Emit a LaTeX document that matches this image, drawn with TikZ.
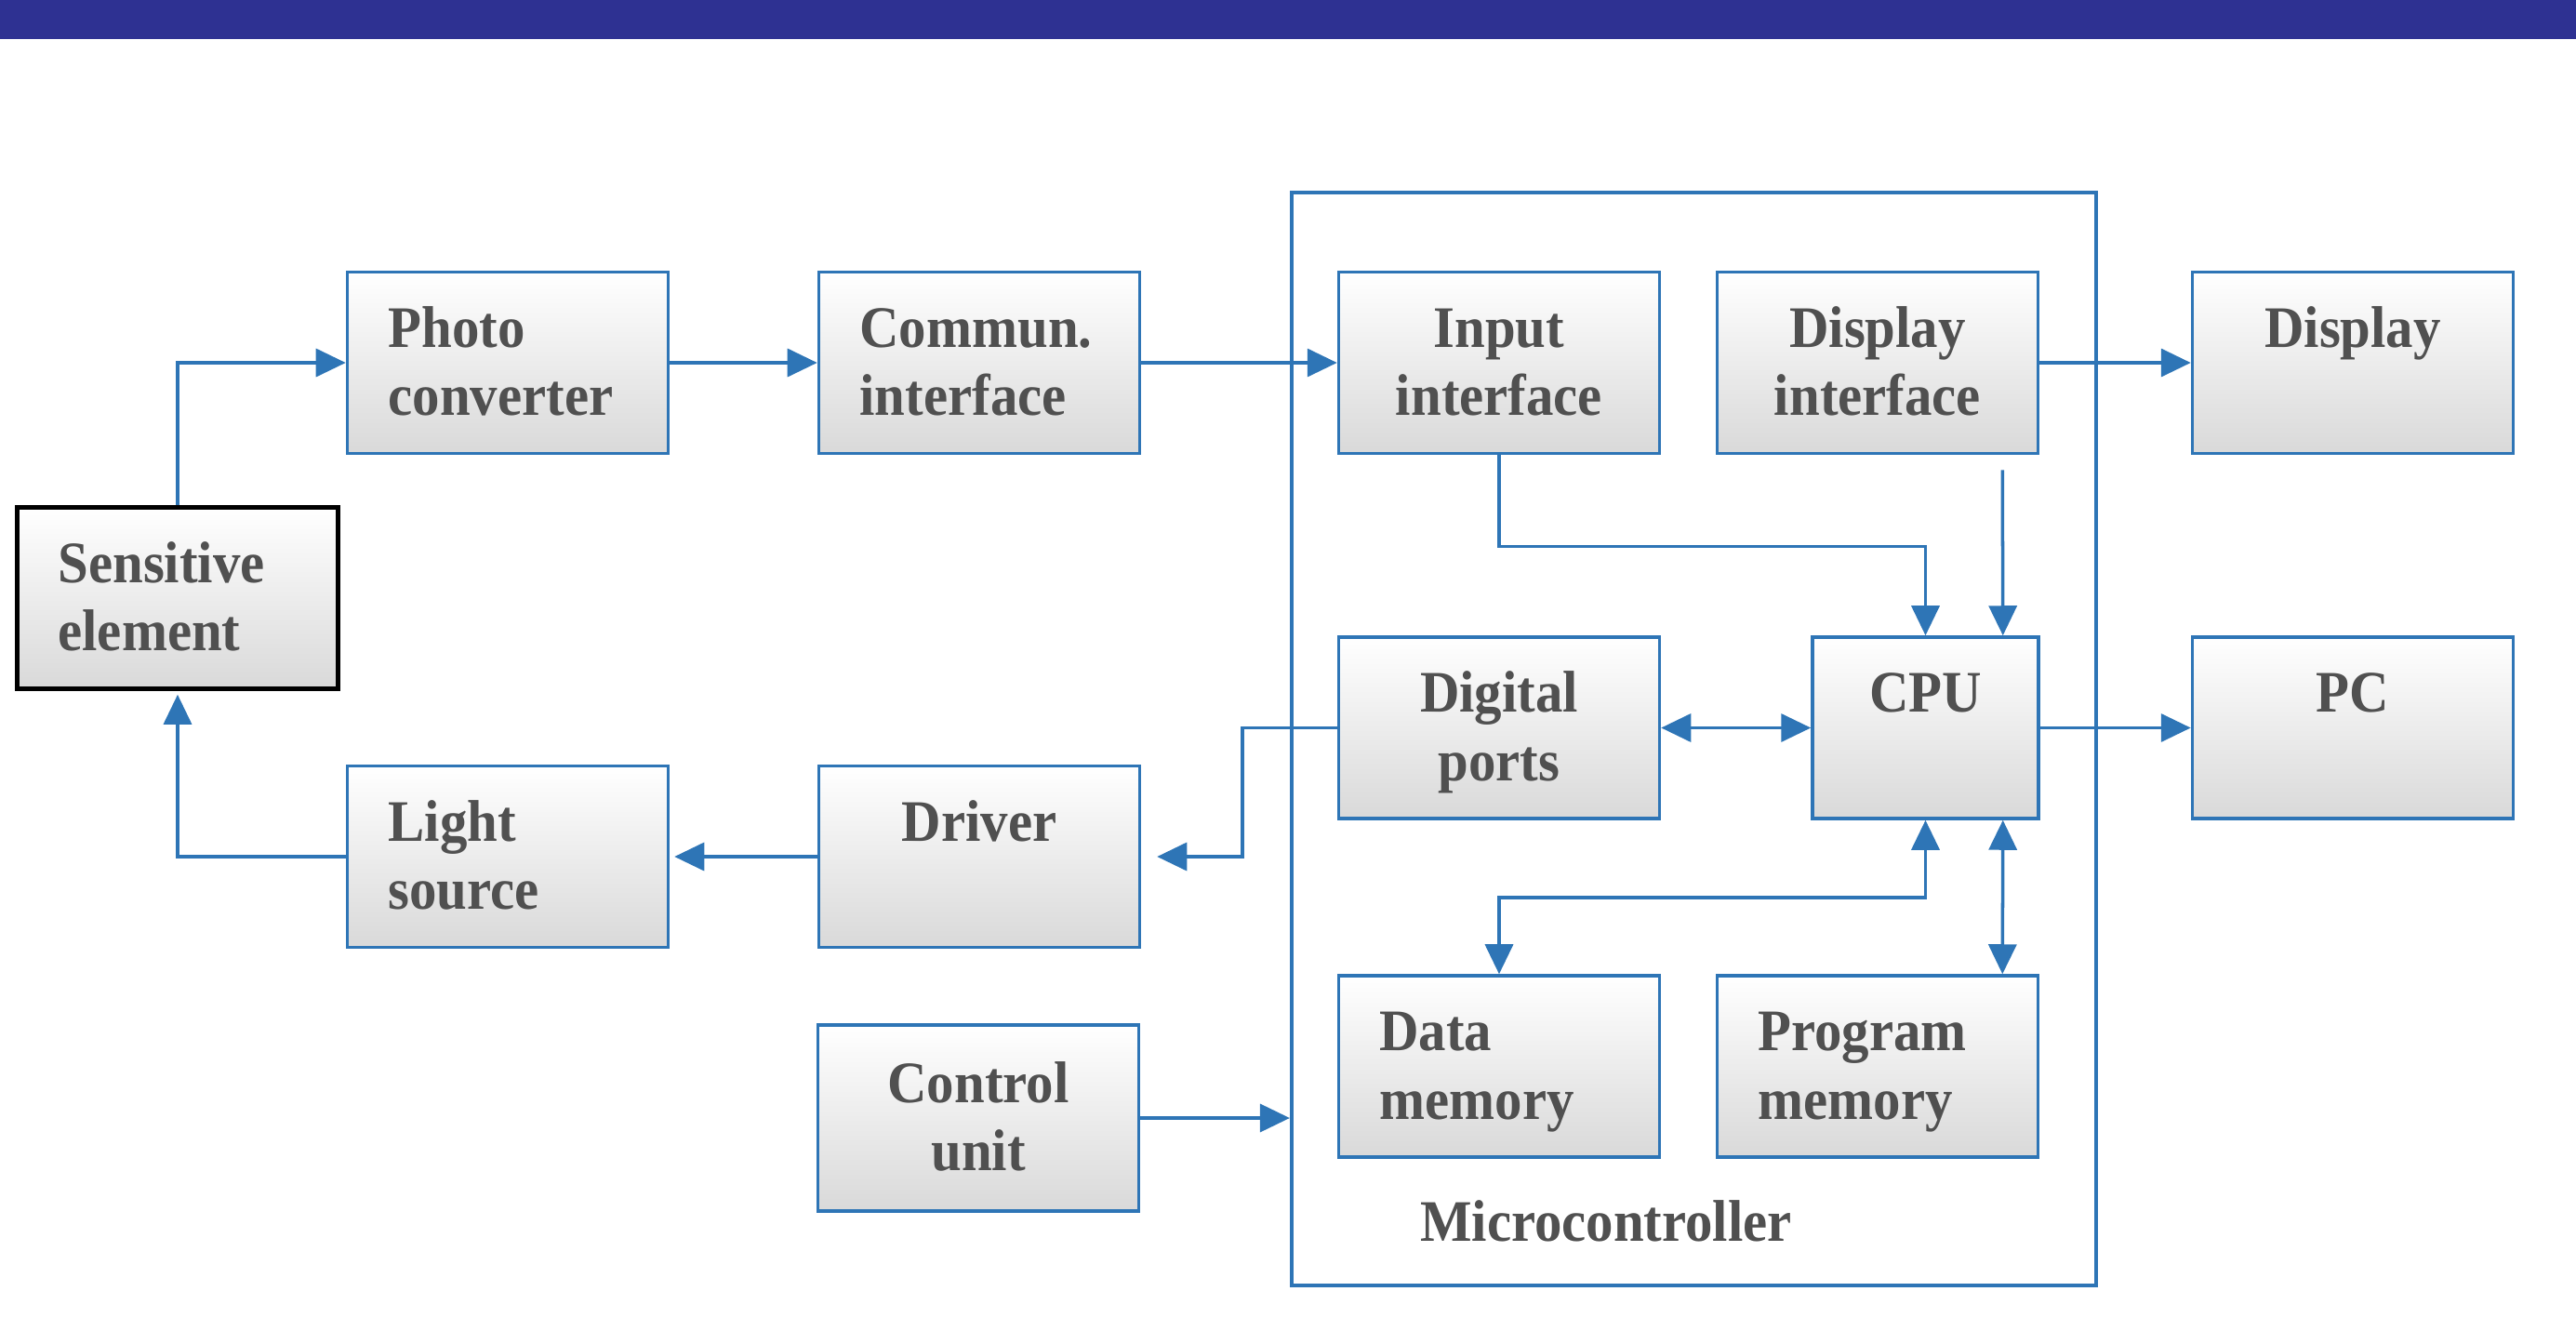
\documentclass[tikz,border=0pt]{standalone}
\usepackage{fontspec}
\setmainfont{Liberation Serif}[FakeStretch=0.93]
\usepackage{tikz}
\usetikzlibrary{positioning}
\usetikzlibrary{arrows.meta}

\definecolor{barblue}{RGB}{46,49,146}
\definecolor{lineblue}{RGB}{46,117,182}
\definecolor{txtgray}{RGB}{80,80,80}
\definecolor{boxgray}{RGB}{217,217,217}

\newcommand{\twoline}[2]{\rule{0pt}{17.7pt}#1\\\strut#2}

\begin{document}
\begin{tikzpicture}[
		box/.style={draw=lineblue, line width=1pt, top color=white, bottom color=boxgray,
			minimum width=3.45cm, minimum height=1.95cm, text width=2.57cm,
			inner xsep=0.44cm, inner ysep=0pt, text=txtgray,
			font=\fontsize{18}{21}\selectfont\bfseries},
		lbox/.style={box, align=left},
		cbox/.style={box, align=center},
		conn/.style={draw=lineblue, line width=1pt, -{Triangle[length=0.32cm,width=0.3cm]}},
		conn2/.style={conn, {Triangle[length=0.32cm,width=0.3cm]}-{Triangle[length=0.32cm,width=0.3cm]}}
	]
		\useasboundingbox (0,0) rectangle (27.7,14.16);
		\fill[barblue] (0,13.74) rectangle (27.7,14.16);

		% microcontroller frame
		\node[draw=lineblue, line width=1.2pt, minimum width=8.65cm, minimum height=11.75cm, inner sep=0] (mc) at (18.215,6.215) {};
		\node[text=txtgray, font=\fontsize{18}{21}\selectfont\bfseries] (mclabel) at (17.27,1.03) {Microcontroller};

		\path
			(1.91,7.73) node[lbox, draw=black, line width=1.3pt] (sens) {\twoline{Sensitive}{element}}
			(5.46,10.26) node[lbox] (photo) {\twoline{Photo}{converter}}
			(10.53,10.26) node[lbox] (comm) {\twoline{Commun.}{interface}}
			(16.12,10.26) node[cbox] (inp) {\twoline{Input}{interface}}
			(20.19,10.26) node[cbox] (dispif) {\twoline{Display}{interface}}
			(25.30,10.26) node[cbox] (disp) {\twoline{Display}{}}
			(16.12,6.335) node[cbox] (dig) {\twoline{Digital}{ports}}
			(20.705,6.335) node[cbox, minimum width=2.43cm, text width=1.55cm] (cpu) {\twoline{CPU}{}}
			(25.30,6.335) node[cbox] (pc) {\twoline{PC}{}}
			(5.46,4.95) node[lbox] (light) {\twoline{Light}{source}}
			(10.53,4.95) node[cbox] (drv) {\twoline{Driver}{}}
			(10.52,2.14) node[cbox, minimum height=2cm] (ctrl) {\twoline{Control}{unit}}
			(16.12,2.695) node[lbox] (dmem) {\twoline{Data}{memory}}
			(20.19,2.695) node[lbox] (pmem) {\twoline{Program}{memory}}
		;

		% signal path
		\draw[conn] (sens.north) |- (photo.west);
		\draw[conn] (photo) -- (comm);
		\draw[conn] (comm) -- (inp);
		\draw[conn] (inp.south) -- ++(0,-0.98) -| (cpu.north);
		\draw[conn] ([xshift=-0.4cm,yshift=-0.16cm]dispif.south east) -- ([xshift=-0.4cm]cpu.north east);
		\draw[conn] (dispif) -- (disp);
		\draw[conn2] (dig) -- (cpu);
		\draw[conn] (cpu) -- (pc);
		\draw[conn2] (cpu.south) -- ++(0,-0.83) -| (dmem.north);
		\draw[conn2] ([xshift=-0.4cm]cpu.south east) -- ([xshift=-0.4cm]pmem.north east);

		% feedback to the light source
		\draw[conn, shorten >=0.17cm] (dig.west) -- ++(-1.02,0) |- (drv.east);
		\draw[conn, shorten >=0.05cm] (drv) -- (light);
		\draw[conn, shorten >=0.04cm] (light.west) -| (sens.south);
		\draw[conn] (ctrl.east) -- (ctrl.east -| mc.west);
	\end{tikzpicture}
\end{document}
